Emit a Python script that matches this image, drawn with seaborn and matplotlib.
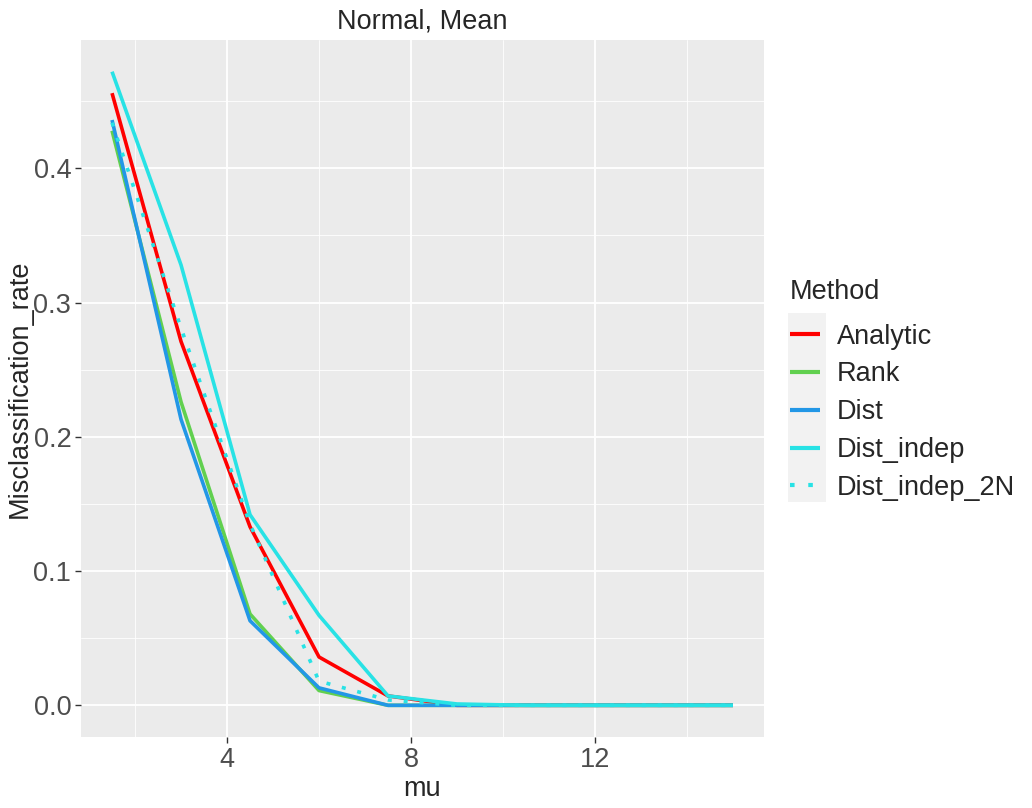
import matplotlib
matplotlib.use("Agg")
import matplotlib.pyplot as plt
from matplotlib.patches import Rectangle
from matplotlib.ticker import MultipleLocator
import numpy as np
import pandas as pd
import seaborn as sns

mu = [1.5, 3, 4.5, 6, 7.5, 9, 10.5, 12, 13.5, 15]
analytic = [0.456, 0.271, 0.133, 0.036, 0.007, 0, 0, 0, 0, 0]
rank = [0.428, 0.226, 0.068, 0.011, 0.0, 0, 0, 0, 0, 0]
dist = [0.436, 0.213, 0.063, 0.013, 0.0, 0, 0, 0, 0, 0]
dist_indep = [0.472, 0.328, 0.142, 0.067, 0.007, 0.001, 0, 0, 0, 0]
dist_indep_2n = [0.434, 0.281, 0.135, 0.018, 0.004, 0, 0, 0, 0, 0]

methods = ["Analytic", "Rank", "Dist", "Dist_indep", "Dist_indep_2N"]
series = [analytic, rank, dist, dist_indep, dist_indep_2n]
colors = {
    "Analytic": "#FF0000",
    "Rank": "#61D04F",
    "Dist": "#2297E6",
    "Dist_indep": "#28E2E5",
    "Dist_indep_2N": "#28E2E5",
}

df = pd.concat(
    [pd.DataFrame({"mu": mu, "Misclassification_rate": vals, "Method": m})
     for m, vals in zip(methods, series)],
    ignore_index=True,
)

sns.set_theme(style="darkgrid", rc={
    "axes.facecolor": "#EBEBEB",
    "grid.color": "white",
    "axes.edgecolor": "#EBEBEB",
})
plt.rcParams["font.family"] = ["Liberation Sans", "DejaVu Sans"]

fs = 19.5
fig = plt.figure(figsize=(10.32, 8.08), dpi=100)
ax = fig.add_axes([81 / 1032, 1 - 737 / 808, (764 - 81) / 1032, (737 - 40) / 808])

lw = 2.6
dashes = {m: "" for m in methods}
dashes["Dist_indep_2N"] = (1.1, 3.3)
sns.lineplot(
    data=df, x="mu", y="Misclassification_rate", hue="Method", style="Method",
    hue_order=methods, style_order=methods, palette=colors, dashes=dashes,
    linewidth=lw, ax=ax, legend=False, sort=False,
)
for line in ax.get_lines():
    line.set_solid_capstyle("butt")
    line.set_dash_capstyle("butt")

ax.set_xlim(0.825, 15.675)
ax.set_ylim(-0.0236, 0.4956)
ax.xaxis.set_minor_locator(MultipleLocator(2))
ax.yaxis.set_minor_locator(MultipleLocator(0.05))
ax.set_xticks([4, 8, 12])
ax.set_yticks([0.0, 0.1, 0.2, 0.3, 0.4])
ax.set_yticklabels(["0.0", "0.1", "0.2", "0.3", "0.4"])
ax.grid(which="major", color="white", linewidth=1.3)
ax.grid(which="minor", color="white", linewidth=0.6)
ax.tick_params(axis="both", which="major", labelsize=fs, labelcolor="#4D4D4D",
               color="#333333", length=4, width=1, bottom=True, left=True, pad=3)
ax.tick_params(which="minor", length=0)
for s in ax.spines.values():
    s.set_visible(False)

ax.set_xlabel("mu", fontsize=fs, labelpad=2)
ax.set_ylabel("Misclassification_rate", fontsize=fs, labelpad=0.5)
ax.set_title("Normal, Mean", fontsize=fs, pad=8)

# legend, with the grey key background ggplot draws
handles = [
    plt.Line2D([], [], color=colors[m], linewidth=lw * 1.15,
               linestyle=(0, (1.1, 3.3)) if m == "Dist_indep_2N" else "-",
               solid_capstyle="butt", dash_capstyle="butt")
    for m in methods
]
fig.patches.append(Rectangle((788 / 1032, 1 - 502 / 808), 38 / 1032, 189 / 808,
                             transform=fig.transFigure, facecolor="#F2F2F2",
                             edgecolor="none", zorder=0))
leg = fig.legend(
    handles, methods, title="Method", loc="upper left",
    bbox_to_anchor=(779 / 1032, 1 - 268 / 808), frameon=False,
    fontsize=fs, title_fontsize=fs, handlelength=1.12, handletextpad=0.62,
    labelspacing=0.437, borderaxespad=0,
)
leg._legend_box.align = "left"
leg._legend_box.sep = 13.5

fig.savefig("out.png", dpi=100)
